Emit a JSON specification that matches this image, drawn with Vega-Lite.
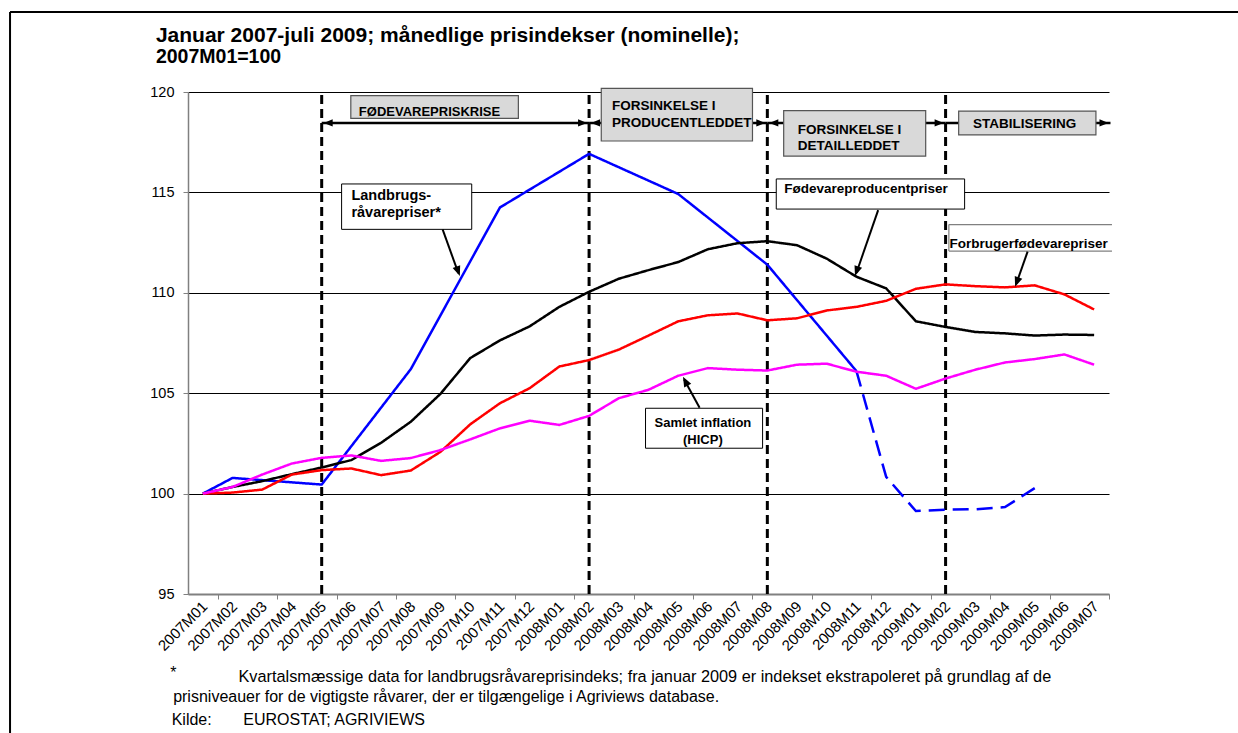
{
  "$schema": "https://vega.github.io/schema/vega-lite/v6.json",
  "width": 921,
  "height": 502,
  "autosize": {"type": "none"},
  "padding": {"left": 188, "top": 92, "right": 129, "bottom": 139},
  "background": "white",
  "config": {"font": "Liberation Sans", "view": {"stroke": null}},
  "data": {"values": [{}]},
  "datasets": {
    "faser": [
      {"fase": "FØDEVAREPRISKRISE", "start": 4, "slutt": 13},
      {"fase": "FORSINKELSE I PRODUCENTLEDDET", "start": 13, "slutt": 19},
      {"fase": "FORSINKELSE I DETAILLEDDET", "start": 19, "slutt": 25},
      {"fase": "STABILISERING", "start": 25, "slutt": 30.55}
    ],
    "serier": [
      {"i":0,"maaned":"2007M01","serie":"Landbrugsråvarepriser","type":"faktisk","indeks":100},
      {"i":1,"maaned":"2007M02","serie":"Landbrugsråvarepriser","type":"faktisk","indeks":100.78},
      {"i":4,"maaned":"2007M05","serie":"Landbrugsråvarepriser","type":"faktisk","indeks":100.45},
      {"i":7,"maaned":"2007M08","serie":"Landbrugsråvarepriser","type":"faktisk","indeks":106.2},
      {"i":10,"maaned":"2007M11","serie":"Landbrugsråvarepriser","type":"faktisk","indeks":114.25},
      {"i":13,"maaned":"2008M02","serie":"Landbrugsråvarepriser","type":"faktisk","indeks":116.92},
      {"i":16,"maaned":"2008M05","serie":"Landbrugsråvarepriser","type":"faktisk","indeks":114.92},
      {"i":19,"maaned":"2008M08","serie":"Landbrugsråvarepriser","type":"faktisk","indeks":111.4},
      {"i":22,"maaned":"2008M11","serie":"Landbrugsråvarepriser","type":"faktisk","indeks":106.1},
      {"i":22,"maaned":"2008M11","serie":"Landbrugsråvarepriser","type":"ekstrapoleret","indeks":106.1},
      {"i":23,"maaned":"2008M12","serie":"Landbrugsråvarepriser","type":"ekstrapoleret","indeks":100.83},
      {"i":24,"maaned":"2009M01","serie":"Landbrugsråvarepriser","type":"ekstrapoleret","indeks":99.13},
      {"i":25,"maaned":"2009M02","serie":"Landbrugsråvarepriser","type":"ekstrapoleret","indeks":99.2},
      {"i":26,"maaned":"2009M03","serie":"Landbrugsråvarepriser","type":"ekstrapoleret","indeks":99.22},
      {"i":27,"maaned":"2009M04","serie":"Landbrugsråvarepriser","type":"ekstrapoleret","indeks":99.33},
      {"i":28,"maaned":"2009M05","serie":"Landbrugsråvarepriser","type":"ekstrapoleret","indeks":100.27},

      {"i":0,"maaned":"2007M01","serie":"Fødevareproducentpriser","type":"faktisk","indeks":100},
      {"i":1,"maaned":"2007M02","serie":"Fødevareproducentpriser","type":"faktisk","indeks":100.33},
      {"i":2,"maaned":"2007M03","serie":"Fødevareproducentpriser","type":"faktisk","indeks":100.62},
      {"i":3,"maaned":"2007M04","serie":"Fødevareproducentpriser","type":"faktisk","indeks":100.97},
      {"i":4,"maaned":"2007M05","serie":"Fødevareproducentpriser","type":"faktisk","indeks":101.3},
      {"i":5,"maaned":"2007M06","serie":"Fødevareproducentpriser","type":"faktisk","indeks":101.67},
      {"i":6,"maaned":"2007M07","serie":"Fødevareproducentpriser","type":"faktisk","indeks":102.53},
      {"i":7,"maaned":"2007M08","serie":"Fødevareproducentpriser","type":"faktisk","indeks":103.58},
      {"i":8,"maaned":"2007M09","serie":"Fødevareproducentpriser","type":"faktisk","indeks":104.97},
      {"i":9,"maaned":"2007M10","serie":"Fødevareproducentpriser","type":"faktisk","indeks":106.75},
      {"i":10,"maaned":"2007M11","serie":"Fødevareproducentpriser","type":"faktisk","indeks":107.63},
      {"i":11,"maaned":"2007M12","serie":"Fødevareproducentpriser","type":"faktisk","indeks":108.33},
      {"i":12,"maaned":"2008M01","serie":"Fødevareproducentpriser","type":"faktisk","indeks":109.3},
      {"i":13,"maaned":"2008M02","serie":"Fødevareproducentpriser","type":"faktisk","indeks":110.05},
      {"i":14,"maaned":"2008M03","serie":"Fødevareproducentpriser","type":"faktisk","indeks":110.7},
      {"i":15,"maaned":"2008M04","serie":"Fødevareproducentpriser","type":"faktisk","indeks":111.13},
      {"i":16,"maaned":"2008M05","serie":"Fødevareproducentpriser","type":"faktisk","indeks":111.53},
      {"i":17,"maaned":"2008M06","serie":"Fødevareproducentpriser","type":"faktisk","indeks":112.17},
      {"i":18,"maaned":"2008M07","serie":"Fødevareproducentpriser","type":"faktisk","indeks":112.47},
      {"i":19,"maaned":"2008M08","serie":"Fødevareproducentpriser","type":"faktisk","indeks":112.57},
      {"i":20,"maaned":"2008M09","serie":"Fødevareproducentpriser","type":"faktisk","indeks":112.37},
      {"i":21,"maaned":"2008M10","serie":"Fødevareproducentpriser","type":"faktisk","indeks":111.7},
      {"i":22,"maaned":"2008M11","serie":"Fødevareproducentpriser","type":"faktisk","indeks":110.8},
      {"i":23,"maaned":"2008M12","serie":"Fødevareproducentpriser","type":"faktisk","indeks":110.22},
      {"i":24,"maaned":"2009M01","serie":"Fødevareproducentpriser","type":"faktisk","indeks":108.58},
      {"i":25,"maaned":"2009M02","serie":"Fødevareproducentpriser","type":"faktisk","indeks":108.3},
      {"i":26,"maaned":"2009M03","serie":"Fødevareproducentpriser","type":"faktisk","indeks":108.05},
      {"i":27,"maaned":"2009M04","serie":"Fødevareproducentpriser","type":"faktisk","indeks":107.98},
      {"i":28,"maaned":"2009M05","serie":"Fødevareproducentpriser","type":"faktisk","indeks":107.87},
      {"i":29,"maaned":"2009M06","serie":"Fødevareproducentpriser","type":"faktisk","indeks":107.92},
      {"i":30,"maaned":"2009M07","serie":"Fødevareproducentpriser","type":"faktisk","indeks":107.9},

      {"i":0,"maaned":"2007M01","serie":"Forbrugerfødevarepriser","type":"faktisk","indeks":100},
      {"i":1,"maaned":"2007M02","serie":"Forbrugerfødevarepriser","type":"faktisk","indeks":100.05},
      {"i":2,"maaned":"2007M03","serie":"Forbrugerfødevarepriser","type":"faktisk","indeks":100.2},
      {"i":3,"maaned":"2007M04","serie":"Forbrugerfødevarepriser","type":"faktisk","indeks":100.95},
      {"i":4,"maaned":"2007M05","serie":"Forbrugerfødevarepriser","type":"faktisk","indeks":101.17},
      {"i":5,"maaned":"2007M06","serie":"Forbrugerfødevarepriser","type":"faktisk","indeks":101.25},
      {"i":6,"maaned":"2007M07","serie":"Forbrugerfødevarepriser","type":"faktisk","indeks":100.92},
      {"i":7,"maaned":"2007M08","serie":"Forbrugerfødevarepriser","type":"faktisk","indeks":101.15},
      {"i":8,"maaned":"2007M09","serie":"Forbrugerfødevarepriser","type":"faktisk","indeks":102.08},
      {"i":9,"maaned":"2007M10","serie":"Forbrugerfødevarepriser","type":"faktisk","indeks":103.45},
      {"i":10,"maaned":"2007M11","serie":"Forbrugerfødevarepriser","type":"faktisk","indeks":104.5},
      {"i":11,"maaned":"2007M12","serie":"Forbrugerfødevarepriser","type":"faktisk","indeks":105.25},
      {"i":12,"maaned":"2008M01","serie":"Forbrugerfødevarepriser","type":"faktisk","indeks":106.33},
      {"i":13,"maaned":"2008M02","serie":"Forbrugerfødevarepriser","type":"faktisk","indeks":106.65},
      {"i":14,"maaned":"2008M03","serie":"Forbrugerfødevarepriser","type":"faktisk","indeks":107.17},
      {"i":15,"maaned":"2008M04","serie":"Forbrugerfødevarepriser","type":"faktisk","indeks":107.87},
      {"i":16,"maaned":"2008M05","serie":"Forbrugerfødevarepriser","type":"faktisk","indeks":108.58},
      {"i":17,"maaned":"2008M06","serie":"Forbrugerfødevarepriser","type":"faktisk","indeks":108.88},
      {"i":18,"maaned":"2008M07","serie":"Forbrugerfødevarepriser","type":"faktisk","indeks":108.97},
      {"i":19,"maaned":"2008M08","serie":"Forbrugerfødevarepriser","type":"faktisk","indeks":108.63},
      {"i":20,"maaned":"2008M09","serie":"Forbrugerfødevarepriser","type":"faktisk","indeks":108.73},
      {"i":21,"maaned":"2008M10","serie":"Forbrugerfødevarepriser","type":"faktisk","indeks":109.12},
      {"i":22,"maaned":"2008M11","serie":"Forbrugerfødevarepriser","type":"faktisk","indeks":109.3},
      {"i":23,"maaned":"2008M12","serie":"Forbrugerfødevarepriser","type":"faktisk","indeks":109.6},
      {"i":24,"maaned":"2009M01","serie":"Forbrugerfødevarepriser","type":"faktisk","indeks":110.2},
      {"i":25,"maaned":"2009M02","serie":"Forbrugerfødevarepriser","type":"faktisk","indeks":110.42},
      {"i":26,"maaned":"2009M03","serie":"Forbrugerfødevarepriser","type":"faktisk","indeks":110.33},
      {"i":27,"maaned":"2009M04","serie":"Forbrugerfødevarepriser","type":"faktisk","indeks":110.27},
      {"i":28,"maaned":"2009M05","serie":"Forbrugerfødevarepriser","type":"faktisk","indeks":110.37},
      {"i":29,"maaned":"2009M06","serie":"Forbrugerfødevarepriser","type":"faktisk","indeks":109.92},
      {"i":30,"maaned":"2009M07","serie":"Forbrugerfødevarepriser","type":"faktisk","indeks":109.17},

      {"i":0,"maaned":"2007M01","serie":"Samlet inflation (HICP)","type":"faktisk","indeks":100},
      {"i":1,"maaned":"2007M02","serie":"Samlet inflation (HICP)","type":"faktisk","indeks":100.33},
      {"i":2,"maaned":"2007M03","serie":"Samlet inflation (HICP)","type":"faktisk","indeks":100.95},
      {"i":3,"maaned":"2007M04","serie":"Samlet inflation (HICP)","type":"faktisk","indeks":101.5},
      {"i":4,"maaned":"2007M05","serie":"Samlet inflation (HICP)","type":"faktisk","indeks":101.78},
      {"i":5,"maaned":"2007M06","serie":"Samlet inflation (HICP)","type":"faktisk","indeks":101.9},
      {"i":6,"maaned":"2007M07","serie":"Samlet inflation (HICP)","type":"faktisk","indeks":101.63},
      {"i":7,"maaned":"2007M08","serie":"Samlet inflation (HICP)","type":"faktisk","indeks":101.77},
      {"i":8,"maaned":"2007M09","serie":"Samlet inflation (HICP)","type":"faktisk","indeks":102.17},
      {"i":9,"maaned":"2007M10","serie":"Samlet inflation (HICP)","type":"faktisk","indeks":102.7},
      {"i":10,"maaned":"2007M11","serie":"Samlet inflation (HICP)","type":"faktisk","indeks":103.25},
      {"i":11,"maaned":"2007M12","serie":"Samlet inflation (HICP)","type":"faktisk","indeks":103.63},
      {"i":12,"maaned":"2008M01","serie":"Samlet inflation (HICP)","type":"faktisk","indeks":103.42},
      {"i":13,"maaned":"2008M02","serie":"Samlet inflation (HICP)","type":"faktisk","indeks":103.87},
      {"i":14,"maaned":"2008M03","serie":"Samlet inflation (HICP)","type":"faktisk","indeks":104.75},
      {"i":15,"maaned":"2008M04","serie":"Samlet inflation (HICP)","type":"faktisk","indeks":105.17},
      {"i":16,"maaned":"2008M05","serie":"Samlet inflation (HICP)","type":"faktisk","indeks":105.87},
      {"i":17,"maaned":"2008M06","serie":"Samlet inflation (HICP)","type":"faktisk","indeks":106.25},
      {"i":18,"maaned":"2008M07","serie":"Samlet inflation (HICP)","type":"faktisk","indeks":106.17},
      {"i":19,"maaned":"2008M08","serie":"Samlet inflation (HICP)","type":"faktisk","indeks":106.13},
      {"i":20,"maaned":"2008M09","serie":"Samlet inflation (HICP)","type":"faktisk","indeks":106.42},
      {"i":21,"maaned":"2008M10","serie":"Samlet inflation (HICP)","type":"faktisk","indeks":106.47},
      {"i":22,"maaned":"2008M11","serie":"Samlet inflation (HICP)","type":"faktisk","indeks":106.07},
      {"i":23,"maaned":"2008M12","serie":"Samlet inflation (HICP)","type":"faktisk","indeks":105.87},
      {"i":24,"maaned":"2009M01","serie":"Samlet inflation (HICP)","type":"faktisk","indeks":105.22},
      {"i":25,"maaned":"2009M02","serie":"Samlet inflation (HICP)","type":"faktisk","indeks":105.73},
      {"i":26,"maaned":"2009M03","serie":"Samlet inflation (HICP)","type":"faktisk","indeks":106.17},
      {"i":27,"maaned":"2009M04","serie":"Samlet inflation (HICP)","type":"faktisk","indeks":106.53},
      {"i":28,"maaned":"2009M05","serie":"Samlet inflation (HICP)","type":"faktisk","indeks":106.7},
      {"i":29,"maaned":"2009M06","serie":"Samlet inflation (HICP)","type":"faktisk","indeks":106.93},
      {"i":30,"maaned":"2009M07","serie":"Samlet inflation (HICP)","type":"faktisk","indeks":106.42}
    ]
  },
  "layer": [
    {
      "mark": {"type": "rule", "color": "black", "strokeWidth": 2},
      "encoding": {"x": {"datum": -6.49, "type": "quantitative"}, "y": {"datum": 123.98, "type": "quantitative"}, "y2": {"datum": 87.5}}
    },
    {
      "mark": {"type": "rule", "color": "black", "strokeWidth": 2},
      "encoding": {"x": {"datum": -6.49, "type": "quantitative"}, "x2": {"datum": 35.5}, "y": {"datum": 123.98, "type": "quantitative"}}
    },
    {
      "mark": {"type": "text", "text": "Januar 2007-juli 2009; månedlige prisindekser (nominelle);", "align": "left", "baseline": "middle", "fontSize": 21, "fontWeight": "bold", "color": "black"},
      "encoding": {"x": {"datum": -1.58, "type": "quantitative"}, "y": {"datum": 122.81, "type": "quantitative"}}
    },
    {
      "mark": {"type": "text", "text": "2007M01=100", "align": "left", "baseline": "middle", "fontSize": 19.5, "fontWeight": "bold", "color": "black"},
      "encoding": {"x": {"datum": -1.58, "type": "quantitative"}, "y": {"datum": 121.73, "type": "quantitative"}}
    },
    {
      "data": {"name": "faser"},
      "mark": {"type": "rule", "color": "black", "strokeWidth": 3, "strokeDash": [9, 5]},
      "encoding": {"x": {"field": "start", "type": "quantitative"}, "y": {"datum": 95, "type": "quantitative"}, "y2": {"datum": 120}}
    },
    {
      "data": {"name": "serier"},
      "mark": {"type": "line", "strokeWidth": 2.5},
      "encoding": {
        "x": {
          "field": "i", "type": "quantitative",
          "scale": {"domain": [-0.5, 30.5], "nice": false, "zero": false},
          "axis": {
            "values": [-1,0,1,2,3,4,5,6,7,8,9,10,11,12,13,14,15,16,17,18,19,20,21,22,23,24,25,26,27,28,29,30],
            "labels": false,
            "tickOffset": 14.855,
            "tickSize": 5, "tickColor": "#808080", "tickWidth": 1,
            "domainColor": "#808080", "domainWidth": 2,
            "grid": false, "title": null
          }
        },
        "y": {
          "field": "indeks", "type": "quantitative",
          "scale": {"domain": [95, 120], "nice": false, "zero": false},
          "axis": {
            "values": [95, 100, 105, 110, 115, 120],
            "grid": true,
            "gridColor": {"condition": {"test": "datum.value === 95", "value": "#808080"}, "value": "black"},
            "gridWidth": 1,
            "domainColor": "#808080", "domainWidth": 1.5,
            "tickColor": "#808080", "tickSize": 5,
            "labelFontSize": 14.5, "labelColor": "black", "labelPadding": 9,
            "labelFlush": false, "title": null
          }
        },
        "color": {
          "field": "serie", "type": "nominal",
          "scale": {"domain": ["Landbrugsråvarepriser", "Fødevareproducentpriser", "Forbrugerfødevarepriser", "Samlet inflation (HICP)"], "range": ["#0000FF", "#000000", "#FF0000", "#FF00FF"]},
          "legend": null
        },
        "strokeDash": {
          "field": "type", "type": "nominal",
          "scale": {"domain": ["faktisk", "ekstrapoleret"], "range": [[1, 0], [16, 8]]},
          "legend": null
        }
      }
    },
    {
      "data": {"name": "serier"},
      "transform": [{"filter": "datum.serie === 'Fødevareproducentpriser'"}],
      "mark": {"type": "text", "angle": 315, "align": "right", "baseline": "middle", "fontSize": 15, "color": "black", "yOffset": 10, "xOffset": 2},
      "encoding": {"x": {"field": "i", "type": "quantitative"}, "y": {"datum": 95, "type": "quantitative"}, "text": {"field": "maaned"}}
    },
    {
      "data": {"name": "faser"},
      "mark": {"type": "rule", "color": "black", "strokeWidth": 2.5},
      "encoding": {"x": {"field": "start", "type": "quantitative"}, "x2": {"field": "slutt"}, "y": {"datum": 118.46, "type": "quantitative"}}
    },
    {
      "data": {"name": "faser"},
      "transform": [{"filter": "datum.fase !== 'STABILISERING'"}],
      "mark": {"type": "point", "shape": "M0,0L-0.4,1L0.4,1Z", "filled": true, "color": "black", "opacity": 1, "size": 324, "angle": 270, "xOffset": 2},
      "encoding": {"x": {"field": "start", "type": "quantitative"}, "y": {"datum": 118.46, "type": "quantitative"}}
    },
    {
      "data": {"name": "faser"},
      "mark": {"type": "point", "shape": "M0,0L-0.4,1L0.4,1Z", "filled": true, "color": "black", "opacity": 1, "size": 324, "angle": 90, "xOffset": -2},
      "encoding": {"x": {"field": "slutt", "type": "quantitative"}, "y": {"datum": 118.46, "type": "quantitative"}}
    },
    {
      "mark": {"type": "rect", "fill": "#D9D9D9", "stroke": "#555555", "strokeWidth": 1.2},
      "encoding": {"x": {"datum": 4.98, "type": "quantitative"}, "x2": {"datum": 10.62}, "y": {"datum": 119.82, "type": "quantitative"}, "y2": {"datum": 118.69}}
    },
    {
      "mark": {"type": "rect", "fill": "#D9D9D9", "stroke": "#555555", "strokeWidth": 1.2},
      "encoding": {"x": {"datum": 13.41, "type": "quantitative"}, "x2": {"datum": 18.5}, "y": {"datum": 120.18, "type": "quantitative"}, "y2": {"datum": 117.56}}
    },
    {
      "mark": {"type": "rect", "fill": "#D9D9D9", "stroke": "#555555", "strokeWidth": 1.2},
      "encoding": {"x": {"datum": 19.55, "type": "quantitative"}, "x2": {"datum": 24.33}, "y": {"datum": 119.07, "type": "quantitative"}, "y2": {"datum": 116.81}}
    },
    {
      "mark": {"type": "rect", "fill": "#D9D9D9", "stroke": "#555555", "strokeWidth": 1.2},
      "encoding": {"x": {"datum": 25.44, "type": "quantitative"}, "x2": {"datum": 30.06}, "y": {"datum": 119.05, "type": "quantitative"}, "y2": {"datum": 117.86}}
    },
    {
      "mark": {"type": "text", "text": "FØDEVAREPRISKRISE", "align": "left", "baseline": "middle", "fontSize": 13, "fontWeight": "bold", "color": "black"},
      "encoding": {"x": {"datum": 5.25, "type": "quantitative"}, "y": {"datum": 119.0, "type": "quantitative"}}
    },
    {
      "mark": {"type": "text", "text": ["FORSINKELSE I", "PRODUCENTLEDDET"], "align": "left", "baseline": "middle", "fontSize": 13.5, "fontWeight": "bold", "lineHeight": 16.5, "color": "black"},
      "encoding": {"x": {"datum": 13.77, "type": "quantitative"}, "y": {"datum": 119.28, "type": "quantitative"}}
    },
    {
      "mark": {"type": "text", "text": ["FORSINKELSE I", "DETAILLEDDET"], "align": "left", "baseline": "middle", "fontSize": 13.5, "fontWeight": "bold", "lineHeight": 15.5, "color": "black"},
      "encoding": {"x": {"datum": 20.02, "type": "quantitative"}, "y": {"datum": 118.09, "type": "quantitative"}}
    },
    {
      "mark": {"type": "text", "text": "STABILISERING", "align": "left", "baseline": "middle", "fontSize": 13.5, "fontWeight": "bold", "color": "black"},
      "encoding": {"x": {"datum": 25.92, "type": "quantitative"}, "y": {"datum": 118.41, "type": "quantitative"}}
    },
    {
      "mark": {"type": "rect", "fill": "white", "stroke": "black", "strokeWidth": 1},
      "encoding": {"x": {"datum": 4.67, "type": "quantitative"}, "x2": {"datum": 9.05}, "y": {"datum": 115.42, "type": "quantitative"}, "y2": {"datum": 113.16}}
    },
    {
      "mark": {"type": "rect", "fill": "white", "stroke": "black", "strokeWidth": 1},
      "encoding": {"x": {"datum": 19.3, "type": "quantitative"}, "x2": {"datum": 25.64}, "y": {"datum": 115.67, "type": "quantitative"}, "y2": {"datum": 114.17}}
    },
    {
      "mark": {"type": "rect", "fill": "white"},
      "encoding": {"x": {"datum": 25.11, "type": "quantitative"}, "x2": {"datum": 30.6}, "y": {"datum": 113.4, "type": "quantitative"}, "y2": {"datum": 112.08}}
    },
    {
      "mark": {"type": "rule", "color": "#808080", "strokeWidth": 1.2},
      "encoding": {"x": {"datum": 25.11, "type": "quantitative"}, "x2": {"datum": 30.6}, "y": {"datum": 113.4, "type": "quantitative"}}
    },
    {
      "mark": {"type": "rule", "color": "#808080", "strokeWidth": 1.2},
      "encoding": {"x": {"datum": 25.11, "type": "quantitative"}, "x2": {"datum": 30.6}, "y": {"datum": 112.08, "type": "quantitative"}}
    },
    {
      "mark": {"type": "rule", "color": "#808080", "strokeWidth": 1.2},
      "encoding": {"x": {"datum": 25.11, "type": "quantitative"}, "y": {"datum": 113.4, "type": "quantitative"}, "y2": {"datum": 112.08}}
    },
    {
      "mark": {"type": "rect", "fill": "white", "stroke": "black", "strokeWidth": 1},
      "encoding": {"x": {"datum": 14.9, "type": "quantitative"}, "x2": {"datum": 18.84}, "y": {"datum": 104.25, "type": "quantitative"}, "y2": {"datum": 102.26}}
    },
    {
      "mark": {"type": "text", "text": ["Landbrugs-", "råvarepriser*"], "align": "left", "baseline": "middle", "fontSize": 14.5, "fontWeight": "bold", "lineHeight": 17, "color": "black"},
      "encoding": {"x": {"datum": 5.0, "type": "quantitative"}, "y": {"datum": 114.8, "type": "quantitative"}}
    },
    {
      "mark": {"type": "text", "text": "Fødevareproducentpriser", "align": "left", "baseline": "middle", "fontSize": 13.5, "fontWeight": "bold", "color": "black"},
      "encoding": {"x": {"datum": 19.57, "type": "quantitative"}, "y": {"datum": 115.17, "type": "quantitative"}}
    },
    {
      "mark": {"type": "text", "text": "Forbrugerfødevarepriser", "align": "left", "baseline": "middle", "fontSize": 13.5, "fontWeight": "bold", "color": "black"},
      "encoding": {"x": {"datum": 25.13, "type": "quantitative"}, "y": {"datum": 112.43, "type": "quantitative"}}
    },
    {
      "mark": {"type": "text", "text": ["Samlet inflation", "(HICP)"], "align": "center", "baseline": "middle", "fontSize": 13, "fontWeight": "bold", "lineHeight": 17, "color": "black"},
      "encoding": {"x": {"datum": 16.83, "type": "quantitative"}, "y": {"datum": 103.52, "type": "quantitative"}}
    },
    {
      "mark": {"type": "rule", "color": "black", "strokeWidth": 2},
      "encoding": {"x": {"datum": 8.07, "type": "quantitative"}, "x2": {"datum": 8.6}, "y": {"datum": 113.16, "type": "quantitative"}, "y2": {"datum": 110.98}}
    },
    {
      "mark": {"type": "point", "shape": "M0,0L-0.4,1L0.4,1Z", "filled": true, "color": "black", "opacity": 1, "size": 400, "angle": 160},
      "encoding": {"x": {"datum": 8.65, "type": "quantitative"}, "y": {"datum": 110.84, "type": "quantitative"}}
    },
    {
      "mark": {"type": "rule", "color": "black", "strokeWidth": 2},
      "encoding": {"x": {"datum": 22.73, "type": "quantitative"}, "x2": {"datum": 22.0}, "y": {"datum": 114.12, "type": "quantitative"}, "y2": {"datum": 111.0}}
    },
    {
      "mark": {"type": "point", "shape": "M0,0L-0.4,1L0.4,1Z", "filled": true, "color": "black", "opacity": 1, "size": 400, "angle": 199.4},
      "encoding": {"x": {"datum": 21.95, "type": "quantitative"}, "y": {"datum": 110.84, "type": "quantitative"}}
    },
    {
      "mark": {"type": "rule", "color": "black", "strokeWidth": 2},
      "encoding": {"x": {"datum": 27.76, "type": "quantitative"}, "x2": {"datum": 27.38}, "y": {"datum": 112.05, "type": "quantitative"}, "y2": {"datum": 110.45}}
    },
    {
      "mark": {"type": "point", "shape": "M0,0L-0.4,1L0.4,1Z", "filled": true, "color": "black", "opacity": 1, "size": 400, "angle": 200},
      "encoding": {"x": {"datum": 27.34, "type": "quantitative"}, "y": {"datum": 110.3, "type": "quantitative"}}
    },
    {
      "mark": {"type": "rule", "color": "black", "strokeWidth": 2},
      "encoding": {"x": {"datum": 16.72, "type": "quantitative"}, "x2": {"datum": 16.2}, "y": {"datum": 104.28, "type": "quantitative"}, "y2": {"datum": 105.68}}
    },
    {
      "mark": {"type": "point", "shape": "M0,0L-0.4,1L0.4,1Z", "filled": true, "color": "black", "opacity": 1, "size": 400, "angle": 331.7},
      "encoding": {"x": {"datum": 16.16, "type": "quantitative"}, "y": {"datum": 105.82, "type": "quantitative"}}
    },
    {
      "mark": {"type": "text", "text": "*", "align": "left", "baseline": "middle", "fontSize": 16, "color": "black"},
      "encoding": {"x": {"datum": -1.1, "type": "quantitative"}, "y": {"datum": 91.07, "type": "quantitative"}}
    },
    {
      "mark": {"type": "text", "text": "Kvartalsmæssige data for landbrugsråvareprisindeks; fra januar 2009 er indekset ekstrapoleret på grundlag af de", "align": "left", "baseline": "middle", "fontSize": 16.3, "color": "black"},
      "encoding": {"x": {"datum": 1.2, "type": "quantitative"}, "y": {"datum": 90.88, "type": "quantitative"}}
    },
    {
      "mark": {"type": "text", "text": "prisniveauer for de vigtigste råvarer, der er tilgængelige i Agriviews database.", "align": "left", "baseline": "middle", "fontSize": 16, "color": "black"},
      "encoding": {"x": {"datum": -1.0, "type": "quantitative"}, "y": {"datum": 89.89, "type": "quantitative"}}
    },
    {
      "mark": {"type": "text", "text": "Kilde:", "align": "left", "baseline": "middle", "fontSize": 16, "color": "black"},
      "encoding": {"x": {"datum": -1.05, "type": "quantitative"}, "y": {"datum": 88.73, "type": "quantitative"}}
    },
    {
      "mark": {"type": "text", "text": "EUROSTAT; AGRIVIEWS", "align": "left", "baseline": "middle", "fontSize": 16, "color": "black"},
      "encoding": {"x": {"datum": 1.36, "type": "quantitative"}, "y": {"datum": 88.73, "type": "quantitative"}}
    }
  ]
}
